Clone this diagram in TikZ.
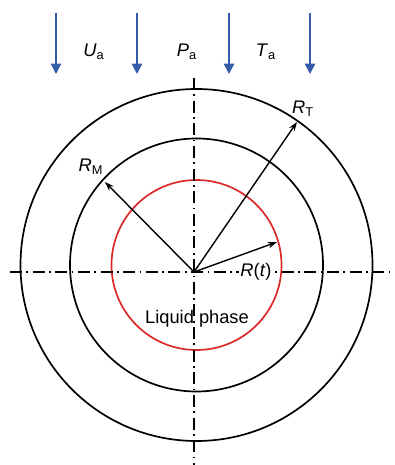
\documentclass[tikz,border=0pt]{standalone}
\usepackage{fontspec}
\setmainfont{Liberation Sans}
\usetikzlibrary{arrows.meta,positioning,calc}
\definecolor{fl}{RGB}{52,92,168}
\definecolor{lq}{RGB}{220,40,40}
\tikzset{
    ring/.style={draw=#1,line width=1.2pt},
    axis/.style={line width=1.2pt,dash pattern=on 8.5pt off 3.2pt on 1.2pt off 3.2pt},
    flow/.style={-{Triangle[length=2.6mm,width=2.6mm]},line width=1.1pt,fl},
    rad/.style={-{Stealth[length=2.3mm,width=1.6mm]},line width=1pt},
    lbl/.style={font=\fontsize{13}{15}\selectfont,inner sep=1pt},
}
\begin{document}
\begin{tikzpicture}[x=0.025cm,y=-0.025cm]
\useasboundingbox (0,0) rectangle (394,465);
\coordinate (C) at (196.5,265);
\coordinate (O) at (194,272);
\draw[ring=black] (C) circle[radius=176];
\draw[ring=black] (C) circle[radius=126.5];
\draw[ring=lq] (C) circle[radius=85];
\coordinate (ax1) at (10,272); \coordinate (ax2) at (394,272);
\coordinate (ay1) at (194,78); \coordinate (ay2) at (194,465);
\draw[axis] (ax1) -- (ax2); \draw[axis] (ay1) -- (ay2);
\foreach \x/\n in {56/f1,137/f2,229/f3,310/f4}{
  \coordinate (\n s) at (\x,13); \coordinate (\n e) at (\x,74);
  \draw[flow] (\n s) -- (\n e);
}
\node[lbl] (ua) at (94,52) {\textit{U}\textsubscript{a}};
\node[lbl] (pa) at (187,52) {\textit{P}\textsubscript{a}};
\node[lbl] (ta) at (266,52) {\textit{T}\textsubscript{a}};
\coordinate (rt) at (297,122); \coordinate (rm) at (105,182); \coordinate (rr) at (277,242);
\draw[rad] (O) -- (rt); \draw[rad] (O) -- (rm); \draw[rad] (O) -- (rr);
\node[lbl] (lrt) at (303,109) {\textit{R}\textsubscript{T}};
\node[lbl] (lrm) at (91,167) {\textit{R}\textsubscript{M}};
\node[lbl,fill=white] (lrr) at (256,272) {\textit{R}(\textit{t})};
\node[lbl] (liq) at (197,319) {Liquid phase};
\end{tikzpicture}
\end{document}
